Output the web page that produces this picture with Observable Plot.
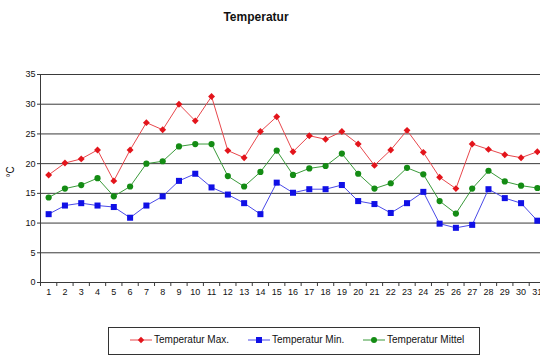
<!DOCTYPE html>
<html>
<head>
<meta charset="utf-8">
<script src="https://cdn.jsdelivr.net/npm/d3@7"></script>
<script src="https://cdn.jsdelivr.net/npm/@observablehq/plot@0.6"></script>
<style>
  html, body { margin: 0; padding: 0; background: #fff; }
  body { width: 540px; height: 360px; overflow: hidden; position: relative; font-family: Arial, "Liberation Sans", sans-serif; }
  #title { position: absolute; top: 10px; left: 256px; transform: translateX(-50%); font-weight: bold; font-size: 12px; color: #111; white-space: nowrap; }
  #chart { position: absolute; top: 0; left: 0; width: 560px; }
  #chart svg { max-width: none !important; width: 560px; height: 300px; }
  #ylab { position: absolute; left: 10px; top: 172px; transform: translate(-50%, -50%) rotate(-90deg); font-size: 10px; color: #111; white-space: nowrap; }
  #legend { position: absolute; left: 108px; top: 327px; width: 370px; height: 26px; border: 1px solid #333; font-size: 10px; color: #111; }
  .item { position: absolute; display: flex; align-items: center; top: 6px; }
  .item svg { margin-right: 2px; }
</style>
</head>
<body>
<div id="title">Temperatur</div>
<div id="chart"></div>
<div id="ylab">°C</div>
<div id="legend"></div>
<script>
const days = d3.range(1, 32);
const tempMax = [18.1, 20.1, 20.8, 22.3, 17.1, 22.3, 26.9, 25.7, 30.0, 27.2, 31.3, 22.2, 21.0, 25.4, 27.9,
                 22.0, 24.7, 24.1, 25.4, 23.3, 19.7, 22.3, 25.6, 21.9, 17.7, 15.8, 23.3, 22.4, 21.5, 21.0, 22.0];
const tempMin = [11.5, 12.95, 13.35, 12.95, 12.7, 10.9, 12.95, 14.5, 17.1, 18.3, 16.0, 14.8, 13.35, 11.5, 16.8,
                 15.1, 15.7, 15.7, 16.4, 13.7, 13.2, 11.7, 13.35, 15.25, 9.9, 9.2, 9.7, 15.7, 14.2, 13.35, 10.4];
const tempMittel = [14.3, 15.8, 16.4, 17.55, 14.5, 16.15, 20.0, 20.4, 22.9, 23.3, 23.3, 17.9, 16.15, 18.6, 22.2,
                    18.1, 19.2, 19.6, 21.7, 18.3, 15.8, 16.7, 19.3, 18.2, 13.7, 11.6, 15.8, 18.8, 17.0, 16.3, 15.9];
const yTicks = [0, 5, 10, 15, 20, 25, 30, 35];
const seriesNames = ["Temperatur Max.", "Temperatur Min.", "Temperatur Mittel"];
const seriesColors = ["#e3141b", "#1010e6", "#148c14"];
const lineColors = ["#e8474c", "#4a4ae8", "#3a9a3a"];
const seriesSymbols = ["diamond2", "square", "circle"];
const seriesValues = [tempMax, tempMin, tempMittel];

const data = [];
seriesValues.forEach((vals, i) => vals.forEach((v, j) => data.push({day: days[j], value: v, series: seriesNames[i]})));
const boundaries = [...days.map(d => d - 0.5), days[days.length - 1] + 0.5];

const lineMarks = [];
const dotMarks = [];
seriesNames.forEach((s, i) => {
  const sub = data.filter(d => d.series === s);
  lineMarks.push(Plot.line(sub, {x: "day", y: "value", stroke: lineColors[i], strokeWidth: 1}));
  dotMarks.push(Plot.dot(sub, {x: "day", y: "value", fill: seriesColors[i], stroke: "none", symbol: seriesSymbols[i], r: i === 1 ? 3.4 : 3.1}));
});

const chart = Plot.plot({
  width: 560,
  height: 300,
  marginTop: 74,
  marginBottom: 18,
  marginLeft: 40,
  marginRight: 15,
  style: {fontFamily: "Arial, 'Liberation Sans', sans-serif", fontSize: "9px", color: "#111", background: "transparent", maxWidth: "none"},
  x: {type: "linear", domain: [0.5, 31.5], axis: null},
  y: {domain: [0, 35], axis: null},
  marks: [
    Plot.ruleY(yTicks, {stroke: "#3a3a3a", strokeWidth: 1}),
    Plot.ruleX([boundaries[0]], {y1: 0, y2: 35, stroke: "#3a3a3a"}),
    Plot.axisY({ticks: yTicks, tickSize: 3, tickPadding: 2, label: null, stroke: "#3a3a3a", fontSize: 9}),
    Plot.axisX({ticks: boundaries, tickSize: 4, tickFormat: () => "", label: null, stroke: "#3a3a3a"}),
    Plot.axisX({ticks: days, tickSize: 0, tickPadding: 6, label: null, fontSize: 9}),
    ...lineMarks,
    ...dotMarks
  ]
});
document.getElementById("chart").appendChild(chart);

const legend = document.getElementById("legend");
const lefts = [21, 139, 254];
seriesNames.forEach((s, i) => {
  const item = document.createElement("div");
  item.className = "item";
  item.style.left = lefts[i] + "px";
  const sym = seriesSymbols[i];
  let marker;
  if (sym === "diamond2") marker = `<path d="M11,-3.2 L14.2,0 L11,3.2 L7.8,0 Z" fill="${seriesColors[i]}"/>`;
  else if (sym === "square") marker = `<rect x="8" y="-3" width="6" height="6" fill="${seriesColors[i]}"/>`;
  else marker = `<circle cx="11" cy="0" r="3" fill="${seriesColors[i]}"/>`;
  item.innerHTML = `<svg width="22" height="10" viewBox="0 -5 22 10"><line x1="0" x2="22" y1="0" y2="0" stroke="${lineColors[i]}" stroke-width="1"/>${marker}</svg><span>${s}</span>`;
  legend.appendChild(item);
});
</script>
</body>
</html>
